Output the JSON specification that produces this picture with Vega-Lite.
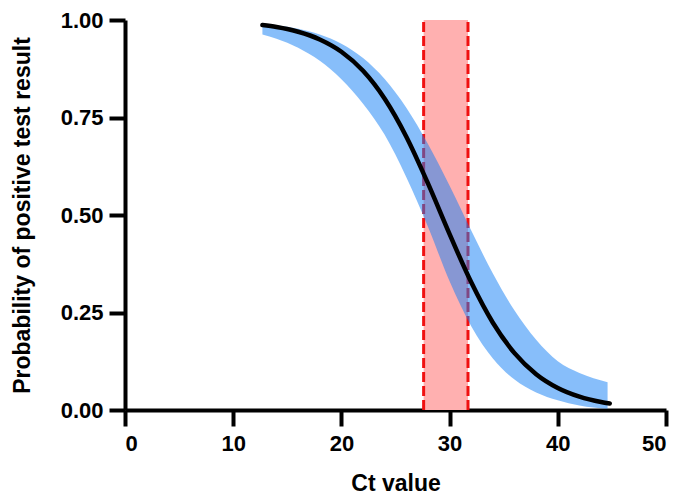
{
  "$schema": "https://vega.github.io/schema/vega-lite/v6.json",
  "width": 541,
  "height": 390,
  "autosize": {"type": "none"},
  "padding": {"left": 125, "top": 20, "right": 17, "bottom": 91},
  "background": "white",
  "config": {
    "view": {"stroke": null},
    "font": "Liberation Sans",
    "axis": {
      "grid": false,
      "domainColor": "black",
      "domainWidth": 4,
      "tickColor": "black",
      "tickWidth": 4,
      "tickSize": 16,
      "labelFont": "Liberation Sans",
      "labelFontWeight": "bold",
      "labelFontSize": 22,
      "labelColor": "black",
      "titleFont": "Liberation Sans",
      "titleFontWeight": "bold",
      "titleFontSize": 23,
      "titleColor": "black"
    }
  },
  "datasets": {
    "curve": [
      {"ct": 12.7, "p": 0.987},
      {"ct": 14, "p": 0.9819},
      {"ct": 16, "p": 0.9698},
      {"ct": 18, "p": 0.950},
      {"ct": 20, "p": 0.9185},
      {"ct": 22, "p": 0.8697},
      {"ct": 24, "p": 0.798},
      {"ct": 26, "p": 0.7008},
      {"ct": 28, "p": 0.581},
      {"ct": 30, "p": 0.451},
      {"ct": 32, "p": 0.3274},
      {"ct": 34, "p": 0.2238},
      {"ct": 36, "p": 0.1459},
      {"ct": 38, "p": 0.0919},
      {"ct": 40, "p": 0.0566},
      {"ct": 42, "p": 0.0343},
      {"ct": 44, "p": 0.0206},
      {"ct": 44.8, "p": 0.0168}
    ],
    "band": [
      {"ct": 12.7, "lo": 0.963, "hi": 0.9904},
      {"ct": 14, "lo": 0.9522, "hi": 0.9865},
      {"ct": 16, "lo": 0.9288, "hi": 0.9775},
      {"ct": 18, "lo": 0.8952, "hi": 0.9628},
      {"ct": 20, "lo": 0.8483, "hi": 0.9394},
      {"ct": 22, "lo": 0.7855, "hi": 0.9027},
      {"ct": 24, "lo": 0.7057, "hi": 0.8487},
      {"ct": 26, "lo": 0.597, "hi": 0.775},
      {"ct": 28, "lo": 0.47, "hi": 0.682},
      {"ct": 30, "lo": 0.33, "hi": 0.575},
      {"ct": 32, "lo": 0.215, "hi": 0.46},
      {"ct": 34, "lo": 0.132, "hi": 0.35},
      {"ct": 36, "lo": 0.078, "hi": 0.255},
      {"ct": 38, "lo": 0.045, "hi": 0.18},
      {"ct": 40, "lo": 0.025, "hi": 0.125},
      {"ct": 42, "lo": 0.0117, "hi": 0.095},
      {"ct": 44.6, "lo": 0.0033, "hi": 0.0712}
    ],
    "range": [
      {"lo": 27.6, "hi": 31.7, "ymin": 0, "ymax": 1}
    ],
    "edges": [
      {"ct": 27.6, "ymin": 0, "ymax": 1},
      {"ct": 31.7, "ymin": 0, "ymax": 1}
    ]
  },
  "layer": [
    {
      "data": {"name": "range"},
      "mark": {"type": "rect", "color": "#ffb0b0"},
      "encoding": {
        "x": {"field": "lo", "type": "quantitative"},
        "x2": {"field": "hi"},
        "y": {"field": "ymin", "type": "quantitative"},
        "y2": {"field": "ymax"}
      }
    },
    {
      "data": {"name": "edges"},
      "mark": {"type": "rule", "color": "#f01010", "strokeWidth": 3, "strokeDash": [10, 4]},
      "encoding": {
        "x": {"field": "ct", "type": "quantitative"},
        "y": {"field": "ymin", "type": "quantitative"},
        "y2": {"field": "ymax"}
      }
    },
    {
      "data": {"name": "band"},
      "mark": {"type": "area", "color": "#0f7df5", "opacity": 0.5, "interpolate": "monotone"},
      "encoding": {
        "x": {"field": "ct", "type": "quantitative"},
        "y": {"field": "lo", "type": "quantitative"},
        "y2": {"field": "hi"}
      }
    },
    {
      "data": {"name": "curve"},
      "mark": {"type": "line", "color": "black", "strokeWidth": 4.5, "strokeCap": "round", "interpolate": "monotone"},
      "encoding": {
        "x": {
          "field": "ct", "type": "quantitative",
          "scale": {"domain": [0, 50], "nice": false},
          "axis": {"title": "Ct value", "values": [0, 10, 20, 30, 40, 50], "labelPadding": 7, "titlePadding": 18}
        },
        "y": {
          "field": "p", "type": "quantitative",
          "scale": {"domain": [0, 1], "nice": false},
          "axis": {"title": "Probability of positive test result", "values": [0, 0.25, 0.5, 0.75, 1], "format": ".2f", "labelPadding": 6, "titlePadding": 26}
        }
      }
    }
  ]
}
